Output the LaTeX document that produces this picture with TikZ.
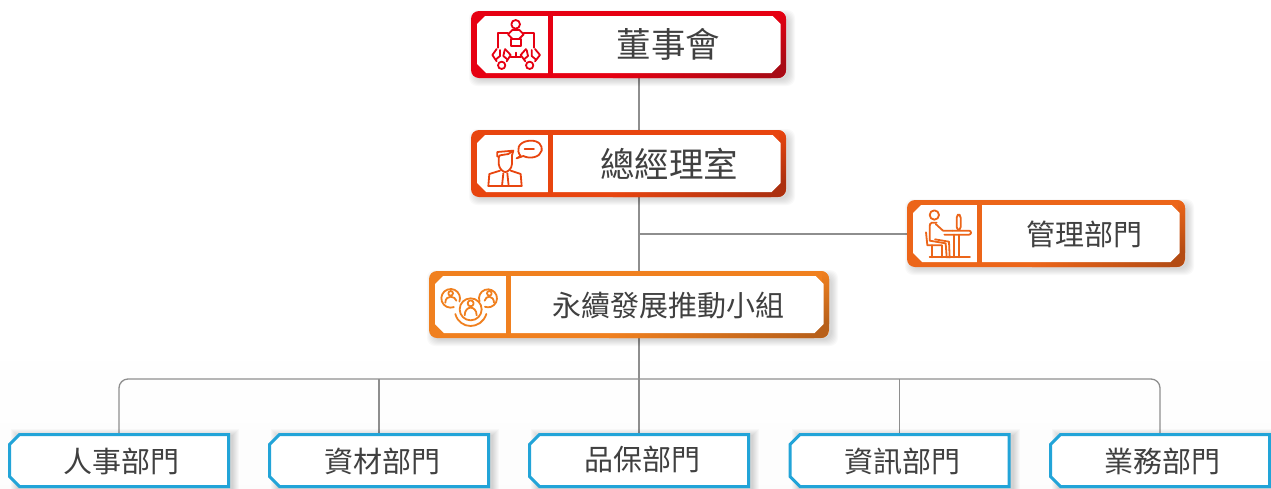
\documentclass[tikz,border=0pt]{standalone}
\usepackage{fontspec}
\setmainfont{Noto Sans CJK TC}
\usetikzlibrary{calc}
\pgfdeclarelayer{bg}
\pgfsetlayers{bg,main}
\definecolor{cred}{HTML}{E60012}\definecolor{dred}{HTML}{A80A14}
\definecolor{cgm}{HTML}{E8450F}\definecolor{dgm}{HTML}{AC300F}
\definecolor{cmg}{HTML}{EC6519}\definecolor{dmg}{HTML}{B44C14}
\definecolor{ces}{HTML}{F0801F}\definecolor{des}{HTML}{B8601A}
\definecolor{cleaf}{HTML}{22A4D8}
\definecolor{cline}{HTML}{8E8E8E}
\definecolor{ctext}{HTML}{404040}
\tikzset{
  conn/.style={draw=cline,line width=1.3pt},
  outerbox/.style={rounded corners=8pt,minimum height=67pt,inner sep=0pt,outer sep=0pt},
  anchorbox/.style={rectangle,minimum width=222pt,minimum height=55pt,inner sep=0pt,outer sep=0pt},
  leafline/.style={draw=cleaf,line width=3pt,fill=white,miter limit=4},
  bigtext/.style={text=ctext,font=\fontsize{34.5}{34.5}\selectfont,inner sep=0pt},
  midtext/.style={text=ctext,font=\fontsize{29}{29}\selectfont,inner sep=0pt},
  icon/.style={line width=1.8pt,line cap=round,line join=round,fill=none},
}
% name, cx, cy, width, colour, dark, divider left x
\newcommand{\orgbox}[7]{
  \foreach \s in {1,2,...,7}{
    \fill[black,opacity=.022,rounded corners=8pt]
      ({#2-#4/2+5-\s},{#3-33.5+6-\s}) rectangle ({#2+#4/2+2+\s},{#3+33.5+1+\s});
  }
  \node[outerbox,minimum width=#4pt,fill=#5] (#1) at (#2,#3) {};
  \begin{scope}
    \clip[rounded corners=8pt] ({#2-#4/2},{#3-33.5}) rectangle ({#2+#4/2},{#3+33.5});
    \shade[top color=#5,bottom color=#6] ({#2+#4/2-7},{#3-33.5}) rectangle ({#2+#4/2},{#3+18.5});
    \shade[left color=#5,right color=#6] ({#2-#4/2+#4*0.45},{#3+27}) rectangle ({#2+#4/2-15},{#3+33.5});
    \fill[#6] ({#2+#4/2-15},{#3+18.4}) rectangle ({#2+#4/2},{#3+33.5});
  \end{scope}
  \fill[white] ({#2-#4/2+6+8},{#3-28.5}) -- ({#2+#4/2-5.5-8},{#3-28.5}) -- ({#2+#4/2-5.5},{#3-28.5+8})
     -- ({#2+#4/2-5.5},{#3+28.5-9}) -- ({#2+#4/2-5.5-9},{#3+28.5}) -- ({#2-#4/2+6+9},{#3+28.5})
     -- ({#2-#4/2+6},{#3+28.5-9}) -- ({#2-#4/2+6},{#3-28.5+8}) -- cycle;
  \fill[#5] (#7,{#3-29}) rectangle ({#7+5},{#3+29});
}
% name, cx
\newcommand{\leafnode}[2]{
  \foreach \s in {1,2,...,7}{
    \fill[black,opacity=.022] ({#2-106+5-\s},{436-\s}) rectangle ({#2+111+2+\s},{500});
  }
  \node[anchorbox] (#1) at (#2,460.5) {};
  \draw[leafline] ({#2-99.5},434.5) -- ({#2+109.5},434.5) -- ({#2+109.5},486.5) -- ({#2-99.5},486.5)
     -- ({#2-109.5},476.5) -- ({#2-109.5},444.5) -- cycle;
}
\begin{document}
\begin{tikzpicture}[x=1pt,y=-1pt]
\useasboundingbox (0,0) rectangle (1271,488);
\clip (0,0) rectangle (1271,488);
\begin{pgfonlayer}{bg}
\shade[top color=white,bottom color=white!99!black] (0,330) rectangle (1271,488);
\end{pgfonlayer}

\orgbox{bod}{628.5}{44.5}{315}{cred}{dred}{548}
\orgbox{gm}{628.5}{163.5}{315}{cgm}{dgm}{548}
\orgbox{mg}{1046}{233.5}{278}{cmg}{dmg}{977}
\orgbox{es}{629}{304.5}{400}{ces}{des}{506}

\leafnode{l1}{119}
\leafnode{l2}{379}
\leafnode{l3}{639}
\leafnode{l4}{899.5}
\leafnode{l5}{1160}

\node[bigtext] (bodt) at (668.5,44) {董事會};
\node[bigtext] (gmt) at (669,163.5) {總經理室};
\node[midtext] (mgt) at (1084,234) {管理部門};
\node[midtext] (est) at (668.5,305.5) {永續發展推動小組};
\node[midtext] (t1) at (121.5,461.5) {人事部門};
\node[midtext] (t2) at (382,461.5) {資材部門};
\node[midtext] (t3) at (642,459.5) {品保部門};
\node[midtext] (t4) at (902.5,461.5) {資訊部門};
\node[midtext] (t5) at (1162.5,461.5) {業務部門};

\coordinate (trunk) at (639,234);
\coordinate (hub) at (639,379);
\begin{pgfonlayer}{bg}
\draw[conn] (bod.south -| trunk) -- (gm.north -| trunk);
\draw[conn] (gm.south -| trunk) -- (es.north -| trunk);
\draw[conn] (trunk) -- (mg.west |- trunk);
\draw[conn] (es.south -| hub) -- (l3.north);
\draw[conn,rounded corners=9pt] (l1.north) |- (hub) -| (l5.north);
\draw[conn] (l2.north) -- (l2.north |- hub);
\draw[conn] (l4.north) -- (l4.north |- hub);
\end{pgfonlayer}

% board icon
\begin{scope}[shift={(480,0)},x=.3333pt,y=-.3333pt,icon,draw=cred]
  \draw (107,73) circle[radius=13];
  \draw (97,90) -- (84,103) -- (97,116) (118,90) -- (131,103) -- (118,116);
  \draw (97,90) -- (118,90);
  \draw (94,116) rectangle (122,138);
  \draw (84,99) -- (55,99) -- (55,143);
  \draw (131,99) -- (162,99) -- (162,143);
  \draw (65,196) circle[radius=11];
  \draw (149,196) circle[radius=11];
  \draw (50,147) -- (37,165) -- (50,184);
  \draw (60,150) -- (60,168) -- (48,178);
  \draw (75,147) -- (92,165) -- (80,184);
  \draw (74,150) -- (70,168) -- (82,178);
  \draw (165,147) -- (180,165) -- (165,184);
  \draw (155,150) -- (155,168) -- (167,178);
  \draw (138,147) -- (122,165) -- (136,184);
  \draw (140,150) -- (144,168) -- (132,178);
  \draw (92,170) -- (107,170) -- (122,170);
  \draw (107,170) -- (107,158);
\end{scope}

% manager icon
\begin{scope}[shift={(480,130)},x=.3333pt,y=-.3333pt,icon,draw=cgm]
  \draw (122,78) .. controls (108,62) and (112,36) .. (148,32) .. controls (178,30) and (188,48) .. (185,62) .. controls (180,82) and (150,88) .. (130,78) -- (110,85) -- (122,78);
  \draw (134,58) -- (162,58);
  \draw (52,80) -- (52,66) -- (100,62) -- (85,72) -- (60,76) -- (56,82);
  \draw (56,80) -- (56,102) .. controls (58,118) and (70,126) .. (76,126) .. controls (84,126) and (95,116) .. (96,102) -- (96,76);
  \draw (100,62) -- (96,76);
  \draw (60,122) -- (28,132) -- (25,168) -- (125,168) -- (122,132) -- (92,122);
  \draw (70,130) -- (66,168) (82,130) -- (86,168);
\end{scope}

% management icon
\begin{scope}[shift={(915,200)},x=.3333pt,y=-.3333pt,icon,draw=cmg]
  \draw (58,45) circle[radius=14];
  \draw (65,68) -- (50,68) .. controls (45,70) and (44,74) .. (44,80) -- (44,122) -- (92,130) -- (95,172) -- (106,172);
  \draw (62,72) -- (84,92) -- (112,92);
  \draw (104,172) -- (102,125) -- (60,118);
  \draw (112,92) -- (162,92) .. controls (170,92) and (170,104) .. (162,104) -- (88,104);
  \draw (118,104) -- (118,172) (131,104) -- (131,172);
  \draw (44,172) -- (165,172);
  \draw[rounded corners=3pt] (125,44) rectangle (137,90);
  \draw (33,97) -- (37,136) -- (80,136);
  \draw (50,136) -- (50,172) (80,136) -- (80,172);
\end{scope}

% team icon
\begin{scope}[shift={(428,270)},x=.3333pt,y=-.3333pt,icon,draw=ces]
  \draw (77.6,111.3) arc[start angle=70,end angle=380,radius=28];
  \draw (128,118) circle[radius=33];
  \draw (154.6,94.2) arc[start angle=160,end angle=470,radius=27];
  \draw (68,70) circle[radius=7];
  \draw (52,98) .. controls (52,86) and (60,80) .. (68,80) .. controls (76,80) and (84,86) .. (85,92);
  \draw (184,70) circle[radius=7];
  \draw (170,92) .. controls (172,84) and (178,80) .. (184,80) .. controls (192,80) and (198,88) .. (198,98);
  \draw (128,100) circle[radius=9];
  \draw (110,136) .. controls (110,120) and (120,113) .. (128,113) .. controls (136,113) and (146,120) .. (146,136);
  \draw (82,132) .. controls (95,180) and (160,180) .. (175,132);
\end{scope}
\end{tikzpicture}
\end{document}
